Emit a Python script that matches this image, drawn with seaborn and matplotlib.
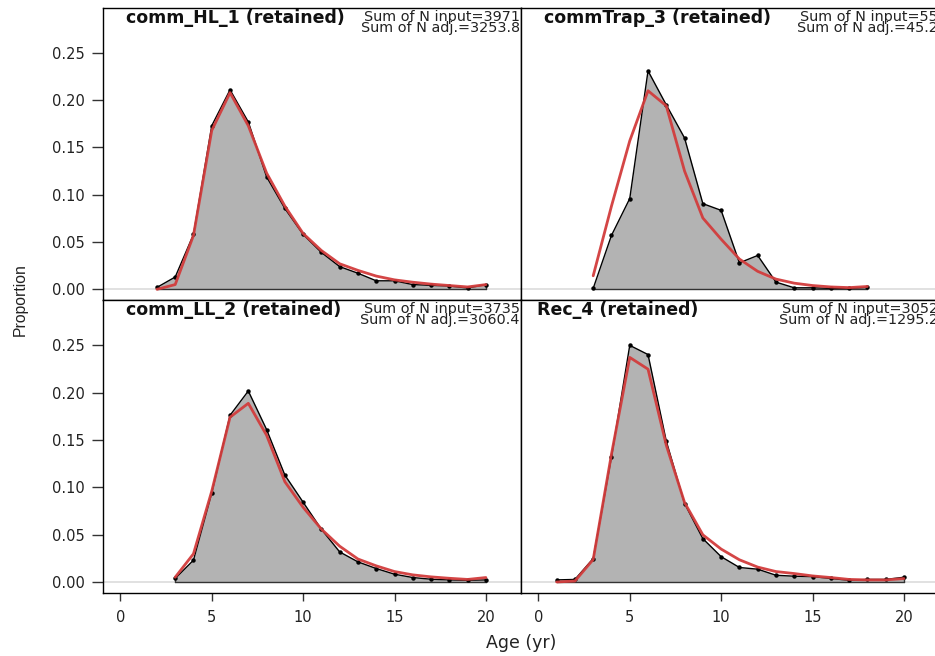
import numpy as np
import pandas as pd
import matplotlib
matplotlib.use("Agg")
import matplotlib.pyplot as plt
import matplotlib.transforms as mtrans
import seaborn as sns

# ---------------- data ----------------
titles = ["comm_HL_1 (retained)", "commTrap_3 (retained)",
          "comm_LL_2 (retained)", "Rec_4 (retained)"]
n_input = ["3971", "55", "3735", "3052"]
n_adj = ["3253.8", "45.2", "3060.4", "1295.2"]

ages_hl = list(range(2, 21))
obs_hl = [0.002, 0.013, 0.058, 0.173, 0.211, 0.177, 0.119, 0.0855, 0.058, 0.039,
          0.024, 0.017, 0.009, 0.009, 0.005, 0.0042, 0.0035, 0.0014, 0.005]
exp_hl = [0.000, 0.005, 0.057, 0.168, 0.208, 0.173, 0.123, 0.088, 0.059, 0.041,
          0.027, 0.020, 0.014, 0.010, 0.0075, 0.0055, 0.004, 0.0025, 0.005]

ages_trap = list(range(3, 19))
obs_trap = [0.001, 0.057, 0.096, 0.231, 0.195, 0.160, 0.0906, 0.0835, 0.028, 0.0358,
            0.0076, 0.0016, 0.0016, 0.001, 0.001, 0.002]
exp_trap = [0.0143, 0.088, 0.157, 0.210, 0.194, 0.125, 0.0754, 0.053, 0.032, 0.019,
            0.0108, 0.0065, 0.004, 0.0025, 0.0018, 0.003]

ages_ll = list(range(3, 21))
obs_ll = [0.004, 0.0233, 0.094, 0.176, 0.2016, 0.161, 0.113, 0.0844, 0.0558, 0.032,
          0.0215, 0.0145, 0.0085, 0.005, 0.0032, 0.0025, 0.0021, 0.0025]
exp_ll = [0.0053, 0.030, 0.096, 0.174, 0.1886, 0.155, 0.106, 0.079, 0.056, 0.038,
          0.0245, 0.0173, 0.0113, 0.0078, 0.0057, 0.0042, 0.003, 0.005]

ages_rec = list(range(1, 21))
obs_rec = [0.0025, 0.003, 0.025, 0.132, 0.2497, 0.240, 0.1487, 0.083, 0.046, 0.027,
           0.0156, 0.0138, 0.0074, 0.0064, 0.006, 0.004, 0.0021, 0.003, 0.003, 0.0053]
exp_rec = [0.0003, 0.0013, 0.024, 0.135, 0.237, 0.2246, 0.1444, 0.084, 0.050, 0.035,
           0.0237, 0.016, 0.0113, 0.0092, 0.0067, 0.005, 0.003, 0.0025, 0.0025, 0.0039]

panel_ages = [ages_hl, ages_trap, ages_ll, ages_rec]
panel_obs = [obs_hl, obs_trap, obs_ll, obs_rec]
panel_exp = [exp_hl, exp_trap, exp_ll, exp_rec]

x_ticks = [0, 5, 10, 15, 20]
y_ticks = [0.00, 0.05, 0.10, 0.15, 0.20, 0.25]

# ---------------- style ----------------
sns.set_style("white")
plt.rcParams["font.family"] = ["DejaVu Sans"]

W, H = 935, 656
fig = plt.figure(figsize=(W / 100, H / 100), dpi=100)

def fx(px):
    return px / W

def fy(py):
    return 1 - py / H

# panel pixel boxes: (left, top, right, bottom)
boxes = [(103, 8, 521, 300), (521, 8, 939, 300),
         (103, 300, 521, 593), (521, 300, 939, 593)]
title_dx = [23, 23, 23, 16]

red = "#d23c3c"
for i, (l, t, r, b) in enumerate(boxes):
    ax = fig.add_axes([fx(l), fy(b), fx(r - l), (b - t) / H])
    ages = panel_ages[i]
    obs = panel_obs[i]
    exp = panel_exp[i]
    ax.axhline(0, color="#dcdcdc", lw=1.2, zorder=1)
    ax.fill_between(ages, obs, 0, color="#b3b3b3", zorder=2, lw=0)
    ax.plot([ages[0], ages[-1]], [0, 0], color="#333333", lw=1.0, zorder=3)
    ax.plot([ages[0], ages[0]], [0, obs[0]], color="#333333", lw=1.0, zorder=3)
    ax.plot([ages[-1], ages[-1]], [0, obs[-1]], color="#333333", lw=1.0, zorder=3)
    df = pd.DataFrame({"age": ages, "obs": obs, "exp": exp})
    sns.lineplot(data=df, x="age", y="obs", ax=ax, color="black", lw=1.0,
                 marker="o", markersize=3.2, markeredgewidth=0, zorder=4)
    sns.lineplot(data=df, x="age", y="exp", ax=ax, color=red, lw=2.0, zorder=5,
                 alpha=0.95)
    ax.set_xlim(-0.95, 21.92)
    ax.set_ylim(-0.0113, 0.2975)
    ax.set_xlabel("")
    ax.set_ylabel("")
    for s in ax.spines.values():
        s.set_color("black")
        s.set_linewidth(1.0)
    ax.set_xticks(x_ticks)
    ax.set_yticks(y_ticks)
    ax.tick_params(axis="y", direction="out", length=8, width=1, color="#333333",
                   labelsize=10.5, pad=5, labelcolor="#222222", left=True)
    ax.tick_params(axis="x", direction="out", length=5.5, width=1, color="#333333",
                   labelsize=10.5, pad=7, labelcolor="#222222", bottom=True)
    if i % 2 == 0:
        ax.set_yticklabels([f"{v:.2f}" for v in y_ticks])
    else:
        ax.tick_params(axis="y", left=False, labelleft=False)
    if i >= 2:
        ax.set_xticklabels([str(v) for v in x_ticks])
    else:
        ax.tick_params(axis="x", bottom=False, labelbottom=False)
    ax.text(fx(l + title_dx[i]), fy(t + 10), titles[i], transform=fig.transFigure,
            fontsize=12.5, fontweight="bold", ha="left", va="center",
            color="#111111")
    tr = mtrans.blended_transform_factory(ax.transAxes, fig.transFigure)
    ax.text(0.997, fy(t + 9), f"Sum of N input={n_input[i]}", transform=tr,
            fontsize=10.4, ha="right", va="center", color="#222222", clip_on=False)
    ax.text(0.997, fy(t + 20), f"Sum of N adj.={n_adj[i]}", transform=tr,
            fontsize=10.4, ha="right", va="center", color="#222222", clip_on=False)

fig.text(fx(20), fy(300), "Proportion", rotation=90, ha="center", va="center",
         fontsize=11.3, color="#222222", family=["Liberation Sans", "DejaVu Sans"])
fig.text(fx(521), fy(643), "Age (yr)", ha="center", va="center",
         fontsize=12.5, color="#222222")

fig.savefig("out.png", dpi=100)
